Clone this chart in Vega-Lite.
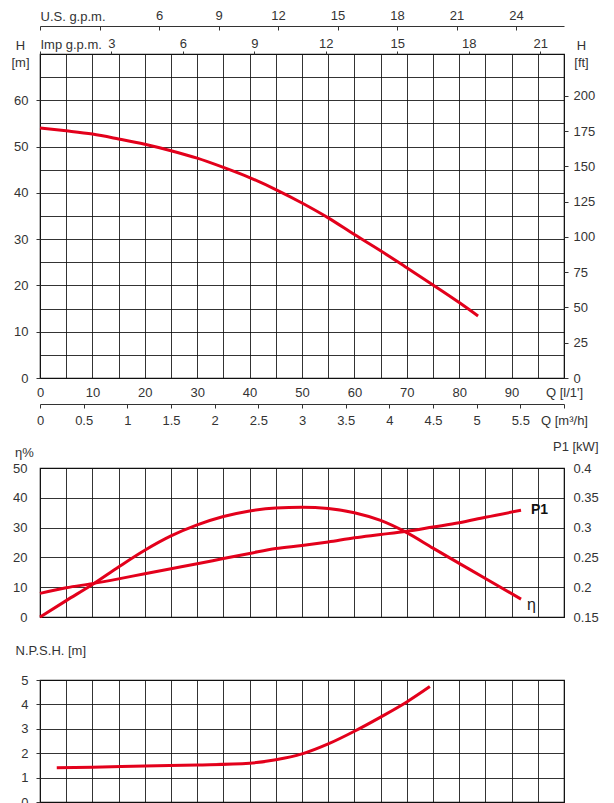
{
  "$schema": "https://vega.github.io/schema/vega-lite/v6.json",
  "autosize": {"type": "pad"},
  "padding": {"left": 10, "top": 8, "right": 0, "bottom": 0},
  "background": "white",
  "config": {
    "font": "Liberation Sans",
    "view": {"stroke": "#111", "strokeWidth": 1.2},
    "axis": {
      "labelFont": "Liberation Sans", "labelFontSize": 13, "labelColor": "#333",
      "titleFont": "Liberation Sans", "titleFontSize": 13, "titleFontWeight": "normal", "titleColor": "#333",
      "gridColor": "#111", "gridOpacity": 0.85, "gridWidth": 1,
      "domainColor": "#333", "tickColor": "#333",
      "labelFlush": false, "labelOverlap": false
    }
  },
  "datasets": {
    "hq": [
      {"Q": 0, "H": 54}, {"Q": 5, "H": 53.4}, {"Q": 10, "H": 52.7}, {"Q": 15, "H": 51.65},
      {"Q": 20, "H": 50.5}, {"Q": 25, "H": 49.1}, {"Q": 30, "H": 47.5}, {"Q": 35, "H": 45.5},
      {"Q": 40, "H": 43.3}, {"Q": 45, "H": 40.7}, {"Q": 50, "H": 37.8}, {"Q": 55, "H": 34.6},
      {"Q": 60, "H": 31.0}, {"Q": 65, "H": 27.5}, {"Q": 70, "H": 23.8}, {"Q": 75, "H": 20.1},
      {"Q": 80, "H": 16.3}, {"Q": 83.6, "H": 13.4}
    ],
    "eff": [
      {"Q": 0, "eta": 0}, {"Q": 5, "eta": 5.5}, {"Q": 10, "eta": 10.9}, {"Q": 15, "eta": 16.8},
      {"Q": 20, "eta": 22.4}, {"Q": 25, "eta": 27.2}, {"Q": 30, "eta": 30.9}, {"Q": 35, "eta": 33.7},
      {"Q": 40, "eta": 35.6}, {"Q": 45, "eta": 36.6}, {"Q": 50, "eta": 36.8}, {"Q": 55, "eta": 36.4},
      {"Q": 60, "eta": 35.0}, {"Q": 65, "eta": 32.4}, {"Q": 70, "eta": 28.3}, {"Q": 75, "eta": 23.1},
      {"Q": 80, "eta": 18.0}, {"Q": 85, "eta": 12.9}, {"Q": 91.8, "eta": 6.0}
    ],
    "p1": [
      {"Q": 0, "P1": 0.1896}, {"Q": 5, "P1": 0.199}, {"Q": 10, "P1": 0.206}, {"Q": 15, "P1": 0.214},
      {"Q": 20, "P1": 0.2226}, {"Q": 25, "P1": 0.231}, {"Q": 30, "P1": 0.2393}, {"Q": 35, "P1": 0.248},
      {"Q": 40, "P1": 0.2566}, {"Q": 45, "P1": 0.265}, {"Q": 50, "P1": 0.27}, {"Q": 55, "P1": 0.276},
      {"Q": 60, "P1": 0.283}, {"Q": 65, "P1": 0.2884}, {"Q": 70, "P1": 0.294}, {"Q": 75, "P1": 0.301},
      {"Q": 80, "P1": 0.308}, {"Q": 85, "P1": 0.3174}, {"Q": 91.8, "P1": 0.329}
    ],
    "npsh": [
      {"Q": 3.2, "N": 1.40}, {"Q": 10, "N": 1.42}, {"Q": 20, "N": 1.48}, {"Q": 30, "N": 1.52},
      {"Q": 40, "N": 1.59}, {"Q": 45, "N": 1.73}, {"Q": 50, "N": 1.97}, {"Q": 55, "N": 2.38},
      {"Q": 60, "N": 2.90}, {"Q": 65, "N": 3.48}, {"Q": 70, "N": 4.10}, {"Q": 74.4, "N": 4.73}
    ],
    "etaLabel": [{"Q": 91.8, "eta": 6.0, "t": "η"}],
    "p1Label": [{"Q": 91.8, "P1": 0.329, "t": "P1"}]
  },
  "bounds": "flush",
  "spacing": 90,
  "vconcat": [
    {
      "width": 524,
      "height": 324,
      "layer": [
        {
          "data": {"name": "hq"},
          "mark": {"type": "line", "color": "#e3001b", "strokeWidth": 3, "interpolate": "monotone"},
          "encoding": {
            "x": {
              "field": "Q", "type": "quantitative",
              "scale": {"domain": [0, 100], "nice": false, "zero": false},
              "axis": {
                "orient": "bottom", "title": null, "grid": true, "ticks": false, "domain": false,
                "values": [0, 5, 10, 15, 20, 25, 30, 35, 40, 45, 50, 55, 60, 65, 70, 75, 80, 85, 90, 95, 100],
                "labelPadding": 8,
                "labelExpr": "datum.value == 100 ? \"Q [l/1']\" : (datum.value % 10 == 0 ? datum.label : '')"
              }
            },
            "y": {
              "field": "H", "type": "quantitative",
              "scale": {"domain": [0, 70], "nice": false},
              "axis": {
                "orient": "left", "grid": true, "domain": false, "tickSize": 4,
                "values": [0, 5, 10, 15, 20, 25, 30, 35, 40, 45, 50, 55, 60, 65, 70],
                "tickOpacity": {"condition": {"test": "datum.value % 10 == 0 && datum.value < 70", "value": 1}, "value": 0},
                "labelExpr": "datum.value % 10 == 0 && datum.value < 70 ? datum.label : ''",
                "labelPadding": 8,
                "title": ["H", "[m]"], "titleAngle": 0, "titleAlign": "center", "titleBaseline": "alphabetic",
                "titleX": -20, "titleY": -5, "titleLineHeight": 17
              }
            }
          }
        },
        {
          "data": {"name": "hq"},
          "mark": {"type": "point", "opacity": 0},
          "encoding": {
            "x": {"field": "Q", "type": "quantitative", "scale": {"domain": [0, 100], "nice": false}, "axis": null},
            "y": {
              "field": "H", "type": "quantitative",
              "scale": {"domain": [0, 229.66], "nice": false},
              "axis": {
                "orient": "right", "grid": false, "domain": false, "tickSize": 4, "labelPadding": 5,
                "values": [0, 25, 50, 75, 100, 125, 150, 175, 200],
                "title": ["H", "[ft]"], "titleAngle": 0, "titleAlign": "center", "titleBaseline": "alphabetic",
                "titleX": 17, "titleY": -5, "titleLineHeight": 17
              }
            }
          }
        },
        {
          "data": {"name": "hq"},
          "mark": {"type": "point", "opacity": 0},
          "encoding": {
            "x": {
              "field": "Q", "type": "quantitative",
              "scale": {"domain": [0, 26.4172], "nice": false},
              "axis": {
                "orient": "top", "offset": 28, "grid": false, "domain": true, "tickSize": -4, "labelPadding": 8,
                "values": [0, 3, 6, 9, 12, 15, 18, 21, 24],
                "labelExpr": "datum.value >= 6 ? datum.label : ''",
                "title": "U.S. g.p.m.", "titleAngle": 0, "titleAlign": "left", "titleBaseline": "alphabetic",
                "titleX": 0, "titleY": -6
              }
            },
            "y": {"field": "H", "type": "quantitative", "scale": {"domain": [0, 70]}, "axis": null}
          }
        },
        {
          "data": {"name": "hq"},
          "mark": {"type": "point", "opacity": 0},
          "encoding": {
            "x": {
              "field": "Q", "type": "quantitative",
              "scale": {"domain": [0, 21.9969], "nice": false},
              "axis": {
                "orient": "top", "offset": 0, "grid": false, "domain": false, "tickSize": 3, "labelPadding": 1,
                "values": [0, 3, 6, 9, 12, 15, 18, 21],
                "labelExpr": "datum.value > 0 ? datum.label : ''",
                "title": "Imp g.p.m.", "titleAngle": 0, "titleAlign": "left", "titleBaseline": "alphabetic",
                "titleX": 0, "titleY": -6
              }
            },
            "y": {"field": "H", "type": "quantitative", "scale": {"domain": [0, 70]}, "axis": null}
          }
        },
        {
          "data": {"name": "hq"},
          "mark": {"type": "point", "opacity": 0},
          "encoding": {
            "x": {
              "field": "Q", "type": "quantitative",
              "scale": {"domain": [0, 6], "nice": false},
              "axis": {
                "orient": "bottom", "offset": 26, "grid": false, "domain": true, "tickSize": 4, "labelPadding": 6,
                "values": [0, 0.5, 1, 1.5, 2, 2.5, 3, 3.5, 4, 4.5, 5, 5.5, 6],
                "format": "~g",
                "labelExpr": "datum.value == 6 ? 'Q [m³/h]' : datum.label",
                "title": null
              }
            },
            "y": {"field": "H", "type": "quantitative", "scale": {"domain": [0, 70]}, "axis": null}
          }
        }
      ],
      "resolve": {"scale": {"x": "independent", "y": "independent"}}
    },
    {
      "bounds": "flush",
      "spacing": 63,
      "vconcat": [
        {
          "width": 524,
          "height": 149,
          "layer": [
            {
              "data": {"name": "eff"},
              "mark": {"type": "line", "color": "#e3001b", "strokeWidth": 3, "interpolate": "monotone"},
              "encoding": {
                "x": {
                  "field": "Q", "type": "quantitative",
                  "scale": {"domain": [0, 100], "nice": false, "zero": false},
                  "axis": {
                    "orient": "bottom", "title": null, "grid": true, "ticks": false, "domain": false, "labels": false,
                    "values": [0, 5, 10, 15, 20, 25, 30, 35, 40, 45, 50, 55, 60, 65, 70, 75, 80, 85, 90, 95, 100]
                  }
                },
                "y": {
                  "field": "eta", "type": "quantitative",
                  "scale": {"domain": [0, 50], "nice": false},
                  "axis": {
                    "orient": "left", "grid": true, "domain": false, "ticks": false, "labelPadding": 13,
                    "values": [0, 10, 20, 30, 40, 50],
                    "title": "η%", "titleAngle": 0, "titleAlign": "center", "titleBaseline": "alphabetic",
                    "titleX": -16, "titleY": -12
                  }
                }
              }
            },
            {
              "data": {"name": "etaLabel"},
              "mark": {"type": "text", "align": "left", "baseline": "middle", "dx": 6, "dy": 6, "fontSize": 16, "color": "#222", "font": "Liberation Sans"},
              "encoding": {
                "x": {"field": "Q", "type": "quantitative", "scale": {"domain": [0, 100], "nice": false, "zero": false}, "axis": null},
                "y": {"field": "eta", "type": "quantitative", "scale": {"domain": [0, 50], "nice": false}, "axis": null},
                "text": {"field": "t"}
              }
            },
            {
              "data": {"name": "p1"},
              "mark": {"type": "line", "color": "#e3001b", "strokeWidth": 3, "interpolate": "monotone"},
              "encoding": {
                "x": {"field": "Q", "type": "quantitative", "scale": {"domain": [0, 100], "nice": false, "zero": false}, "axis": null},
                "y": {
                  "field": "P1", "type": "quantitative",
                  "scale": {"domain": [0.15, 0.4], "nice": false, "zero": false},
                  "axis": {
                    "orient": "right", "grid": false, "domain": false, "ticks": false, "labelPadding": 9,
                    "values": [0.15, 0.2, 0.25, 0.3, 0.35, 0.4], "format": "~g",
                    "title": "P1 [kW]", "titleAngle": 0, "titleAlign": "right", "titleBaseline": "alphabetic",
                    "titleX": 34, "titleY": -18
                  }
                }
              }
            },
            {
              "data": {"name": "p1Label"},
              "mark": {"type": "text", "align": "left", "baseline": "middle", "dx": 10, "dy": 0, "fontSize": 14, "fontWeight": "bold", "color": "#111", "font": "Liberation Sans"},
              "encoding": {
                "x": {"field": "Q", "type": "quantitative", "scale": {"domain": [0, 100], "nice": false, "zero": false}, "axis": null},
                "y": {"field": "P1", "type": "quantitative", "scale": {"domain": [0.15, 0.4], "nice": false, "zero": false}, "axis": null},
                "text": {"field": "t"}
              }
            }
          ],
          "resolve": {"scale": {"x": "independent", "y": "independent"}}
        },
        {
          "width": 524,
          "height": 122,
          "data": {"name": "npsh"},
          "mark": {"type": "line", "color": "#e3001b", "strokeWidth": 3, "interpolate": "monotone"},
          "encoding": {
            "x": {
              "field": "Q", "type": "quantitative",
              "scale": {"domain": [0, 100], "nice": false, "zero": false},
              "axis": {
                "orient": "bottom", "title": null, "grid": true, "ticks": false, "domain": false, "labels": false,
                "values": [0, 5, 10, 15, 20, 25, 30, 35, 40, 45, 50, 55, 60, 65, 70, 75, 80, 85, 90, 95, 100]
              }
            },
            "y": {
              "field": "N", "type": "quantitative",
              "scale": {"domain": [0, 5], "nice": false},
              "axis": {
                "orient": "left", "grid": true, "domain": false, "tickSize": 4, "labelPadding": 8,
                "values": [0, 1, 2, 3, 4, 5],
                "title": "N.P.S.H. [m]", "titleAngle": 0, "titleAlign": "left", "titleBaseline": "alphabetic",
                "titleX": -25, "titleY": -26
              }
            }
          }
        }
      ]
    }
  ]
}
